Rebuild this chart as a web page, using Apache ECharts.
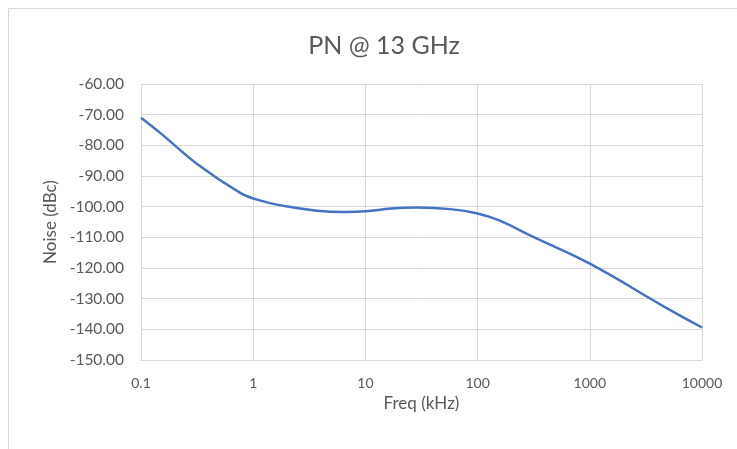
<!DOCTYPE html>
<html><head><meta charset="utf-8">
<script src="https://cdn.jsdelivr.net/npm/echarts@6/dist/echarts.min.js"></script>
<style>html,body{margin:0;padding:0;background:#fff}#c{width:737px;height:449px}</style>
</head><body><div id="c"></div>
<script>
const freqKHz = [0.1, 0.15, 0.33, 0.76, 1.1, 1.9, 3.7, 6.4, 10, 17, 29, 57, 100, 156, 310, 1000, 4760, 10000];
const noiseDBc = [-71.0, -76.1, -86.6, -95.4, -97.8, -99.8, -101.3, -101.7, -101.5, -100.6, -100.3, -100.8, -102.2, -104.5, -109.8, -118.6, -132.9, -139.4];
const titleText = 'PN @ 13 GHz';
const xName = 'Freq (kHz)';
const yName = 'Noise (dBc)';

const font = 'Lato, "Open Sans", sans-serif';
const chart = echarts.init(document.getElementById('c'), null, {renderer: 'canvas'});
chart.setOption({
  animation: false,
  backgroundColor: '#fff',
  graphic: [{type: 'rect', shape: {x: 8.5, y: 8.5, width: 760, height: 460}, style: {fill: 'none', stroke: '#d9d9d9', lineWidth: 1}, z: -1}],
  title: {text: titleText, left: 379, top: 28, textAlign: 'center',
    textStyle: {fontFamily: font, fontSize: 25, fontWeight: 'normal', color: '#595959'}},
  grid: {left: 141, right: 35, top: 84, bottom: 89},
  xAxis: {
    type: 'log', logBase: 10, min: 0.1, max: 10000,
    name: xName, nameLocation: 'middle', nameGap: 33,
    nameTextStyle: {fontFamily: font, fontSize: 17, color: '#595959'},
    axisLine: {lineStyle: {color: '#d9d9d9'}},
    axisTick: {show: false}, minorTick: {show: false},
    axisLabel: {fontFamily: font, fontSize: 14, color: '#595959', margin: 16,
      formatter: v => String(+v.toPrecision(6))},
    splitLine: {show: true, lineStyle: {color: '#d9d9d9'}}
  },
  yAxis: {
    type: 'value', min: -150, max: -60, interval: 10,
    name: yName, nameLocation: 'middle', nameGap: 82, nameRotate: 90,
    nameTextStyle: {fontFamily: font, fontSize: 17, color: '#595959'},
    axisLine: {show: true, lineStyle: {color: '#d9d9d9'}},
    axisTick: {show: false},
    axisLabel: {fontFamily: font, fontSize: 15.5, color: '#595959', margin: 17,
      formatter: v => v.toFixed(2)},
    splitLine: {show: true, lineStyle: {color: '#d9d9d9'}}
  },
  series: [{
    type: 'line', smooth: 0.4, showSymbol: false,
    data: freqKHz.map((f, i) => [f, noiseDBc[i]]),
    lineStyle: {color: '#4472C4', width: 2.5}
  }]
});
</script></body></html>
